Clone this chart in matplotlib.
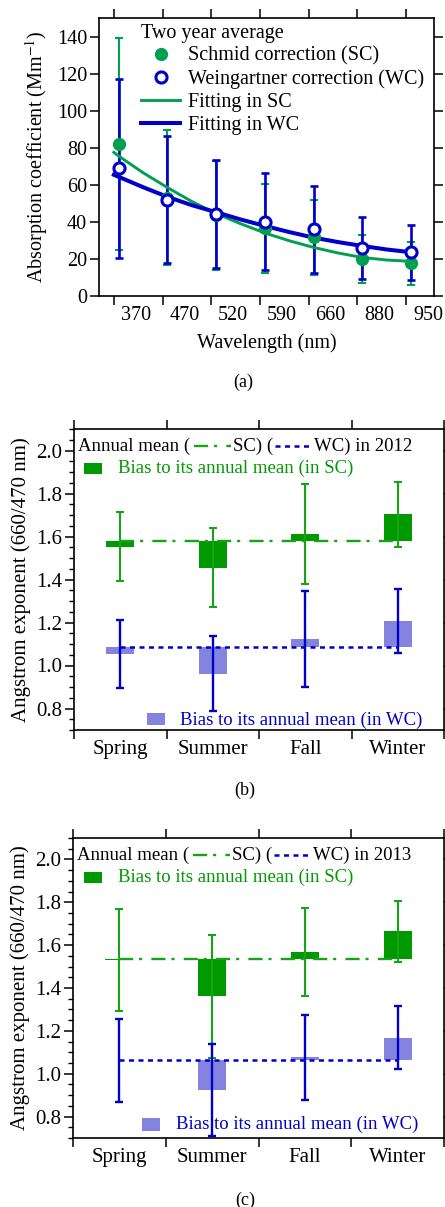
import numpy as np
import matplotlib.pyplot as plt
from matplotlib.lines import Line2D
from matplotlib.patches import Rectangle

plt.rcParams['font.family'] = ['Liberation Serif', 'DejaVu Serif']
plt.rcParams['mathtext.fontset'] = 'stix'

# ---------------------------------
# (a) spectral absorption, two year average
# ---------------------------------
wavelengths = ['370', '470', '520', '590', '660', '880', '950']
sc_abs = [82, 53, 43.5, 36.5, 31.6, 19.9, 17.7]
sc_abs_err = [57, 36.5, 29.3, 24, 20, 12.9, 11.5]
wc_abs = [69, 52, 44.2, 40, 36, 26, 23.5]
wc_abs_err = [48.3, 34.2, 29, 26.1, 23.5, 16.7, 15]

fit_pos = [-0.1, 0, 0.5, 1, 1.5, 2, 2.5, 3, 3.5, 4, 4.5, 5, 5.5, 6]
sc_fit = [77.5, 75.5, 66.5, 58.5, 51, 44.5, 39, 34, 29.8, 26.2, 23.2, 20.8, 19.4, 18.7]
wc_fit = [65.4, 64.3, 58.7, 53.5, 49, 45.2, 41.3, 37.8, 34.5, 31.5, 29.1, 27, 25.1, 23.6]

# ---------------------------------
# (b), (c) seasonal Angstrom exponent
# ---------------------------------
seasons = ['Spring', 'Summer', 'Fall', 'Winter']

sc_mean_2012 = 1.58
wc_mean_2012 = 1.085
sc_2012 = [1.553, 1.455, 1.613, 1.703]
sc_err_2012 = [0.16, 0.185, 0.232, 0.15]
wc_2012 = [1.055, 0.962, 1.123, 1.206]
wc_err_2012 = [0.158, 0.174, 0.223, 0.15]

sc_mean_2013 = 1.537
wc_mean_2013 = 1.066
sc_2013 = [1.532, 1.361, 1.567, 1.664]
sc_err_2013 = [0.238, 0.287, 0.206, 0.143]
wc_2013 = [1.062, 0.926, 1.077, 1.169]
wc_err_2013 = [0.193, 0.215, 0.199, 0.146]

GREEN_A = '#00a050'
BLUE = '#0000c8'
GREEN = '#009900'
GREEN_LINE = '#16a316'
LIGHT_BLUE = '#8484e0'

W, H = 445, 1207
fig = plt.figure(figsize=(W / 100, H / 100), dpi=100)


def add_axes_px(left, right, top, bottom):
    return fig.add_axes([left / W, 1 - bottom / H, (right - left) / W, (bottom - top) / H])


def style_axes(ax):
    for s in ax.spines.values():
        s.set_linewidth(1.2)
    ax.tick_params(which='major', direction='out', length=6.5, width=1.1,
                   top=True, right=True, labelsize=15, pad=2)
    ax.tick_params(axis='x', which='minor', length=0, pad=7, labelsize=15)


# ---------------------------------
# Panel (a)
# ---------------------------------
ax1 = add_axes_px(99, 434, 18, 296)
style_axes(ax1)
pos = np.arange(len(wavelengths))

ax1.errorbar(pos, sc_abs, yerr=sc_abs_err, fmt='none', ecolor=GREEN_A,
             elinewidth=1.5, capsize=3, capthick=1.5, zorder=2)
ax1.errorbar(pos, wc_abs, yerr=wc_abs_err, fmt='none', ecolor=BLUE,
             elinewidth=1.9, capsize=3, capthick=1.9, zorder=3)
ax1.plot(fit_pos, sc_fit, color=GREEN_A, lw=2.1, zorder=4)
ax1.plot(fit_pos, wc_fit, color=BLUE, lw=2.9, zorder=5)
ax1.plot(pos, sc_abs, 'o', color=GREEN_A, ms=8.5, zorder=6)
ax1.plot(pos, wc_abs, 'o', mfc='white', mec=BLUE, mew=2.2, ms=8, zorder=7)

ax1.set_xlim(-0.405, 6.47)
ax1.set_ylim(0, 150)
ax1.set_yticks(np.arange(0, 141, 20))
ax1.set_xticks(pos - 0.1)
ax1.set_xticklabels([])
ax1.set_xticks(pos + 0.35, minor=True)
ax1.set_xticklabels(wavelengths, minor=True)
ax1.tick_params(labelsize=14.5)
ax1.tick_params(axis='x', which='minor', labelsize=14.5)
ax1.set_xlabel('Wavelength (nm)', fontsize=14.5, labelpad=6)
ax1.set_ylabel('Absorption coefficient (Mm$^{-1}$)', fontsize=14.5, labelpad=5)

handles = [
    Line2D([], [], ls='none', marker='o', color=GREEN_A, ms=8.5),
    Line2D([], [], ls='none', marker='o', mfc='white', mec=BLUE, mew=2.2, ms=8),
    Line2D([], [], color=GREEN_A, lw=2.1),
    Line2D([], [], color=BLUE, lw=2.9),
]
labels = ['Schmid correction (SC)', 'Weingartner correction (WC)',
          'Fitting in SC', 'Fitting in WC']
ax1.legend(handles, labels, title='Two year average', loc='upper left',
           bbox_to_anchor=(0.125, 0.98), frameon=False, fontsize=14.5,
           title_fontsize=14.5, alignment='left', borderpad=0, borderaxespad=0,
           handlelength=1.95, handletextpad=0.4, labelspacing=0.19)

fig.text(243 / W, 1 - 382 / H, '(a)', ha='center', va='center', fontsize=13)

renderer = fig.canvas.get_renderer()


def axfrac(ax, dx, dy):
    bb = ax.get_window_extent()
    return dx / bb.width, 1 - dy / bb.height


def inline_key(ax, x0, y0, year):
    x = x0
    pieces = [
        ('text', 'Annual mean (', 4),
        ('line', dict(color=GREEN_LINE, lw=1.7, dashes=(6.0, 2.5, 1.3, 3.9)), 2),
        ('text', 'SC) (', 2),
        ('line', dict(color=BLUE, lw=1.8, dashes=(2.0, 1.8)), 2),
        ('text', 'WC) in ' + year, 0),
    ]
    for kind, item, gap in pieces:
        fx, fy = axfrac(ax, x, y0)
        if kind == 'text':
            t = ax.text(fx, fy, item, transform=ax.transAxes, ha='left', va='center',
                        fontsize=13.5, color='black')
            x += t.get_window_extent(renderer).width + gap
        else:
            length = 37
            fx2, _ = axfrac(ax, x + length, y0)
            ax.plot([fx, fx2], [fy, fy], transform=ax.transAxes, clip_on=False, **item)
            x += length + gap


def key_box(ax, left, right, top, bottom, color, tx, ty, label):
    fl, ft = axfrac(ax, left, top)
    fr, fb = axfrac(ax, right, bottom)
    ax.add_patch(Rectangle((fl, fb), fr - fl, ft - fb, transform=ax.transAxes,
                           color=color, lw=0))
    fx, fy = axfrac(ax, tx, ty)
    ax.text(fx, fy, label, transform=ax.transAxes, ha='left', va='center',
            fontsize=13.5, color=color if color != LIGHT_BLUE else BLUE, zorder=1)


def season_panel(ax, sc, sc_err, wc, wc_err, sc_mean, wc_mean, year, sc_key, wc_key):
    style_axes(ax)
    x = np.arange(len(seasons)) + 0.5
    ax.bar(x, np.array(sc) - sc_mean, bottom=sc_mean, width=0.3, color=GREEN, zorder=2)
    ax.bar(x, np.array(wc) - wc_mean, bottom=wc_mean, width=0.3, color=LIGHT_BLUE, zorder=2)
    ax.plot([x[0], x[-1]], [sc_mean, sc_mean], color=GREEN_LINE, lw=1.7,
            dashes=(6.0, 2.5, 1.3, 3.9), zorder=3)
    ax.plot([x[0], x[-1]], [wc_mean, wc_mean], color=BLUE, lw=1.8,
            dashes=(2.0, 1.8), zorder=3)
    ax.errorbar(x, sc, yerr=sc_err, fmt='none', ecolor=GREEN_LINE, elinewidth=1.5,
                capsize=2.8, capthick=1.5, zorder=4)
    ax.errorbar(x, wc, yerr=wc_err, fmt='none', ecolor=BLUE, elinewidth=1.7,
                capsize=2.8, capthick=1.7, zorder=4)

    ax.set_xlim(0, 4)
    ax.set_ylim(0.7, 2.1)
    ax.set_yticks(np.arange(0.8, 2.01, 0.2))
    ax.set_yticks(np.arange(0.7, 2.101, 0.05), minor=True)
    ax.tick_params(axis='y', which='minor', direction='out', length=3.6, width=1.0, right=True)
    ax.set_xticks(np.arange(5))
    ax.set_xticklabels([])
    ax.set_xticks(x, minor=True)
    ax.set_xticklabels(seasons, minor=True)
    ax.set_ylabel('Angstrom exponent (660/470 nm)', fontsize=15, labelpad=4)

    inline_key(ax, 4, 17, year)
    key_box(ax, *sc_key[0], GREEN, *sc_key[1], 'Bias to its annual mean (in SC)')
    key_box(ax, *wc_key[0], LIGHT_BLUE, *wc_key[1], 'Bias to its annual mean (in WC)')


ax2 = add_axes_px(74, 444, 429, 730)
season_panel(ax2, sc_2012, sc_err_2012, wc_2012, wc_err_2012, sc_mean_2012, wc_mean_2012,
             '2012', ((10, 28, 34, 45), (44, 39)), ((73, 91, 284, 296), (106, 291)))
fig.text(245 / W, 1 - 790 / H, '(b)', ha='center', va='center', fontsize=13)

ax3 = add_axes_px(73, 444, 838, 1138)
season_panel(ax3, sc_2013, sc_err_2013, wc_2013, wc_err_2013, sc_mean_2013, wc_mean_2013,
             '2013', ((11, 29, 34, 45), (45, 39)), ((69, 87, 280, 293), (103, 286)))
fig.text(245 / W, 1 - 1200 / H, '(c)', ha='center', va='center', fontsize=13)

fig.savefig('out.png', dpi=100)
